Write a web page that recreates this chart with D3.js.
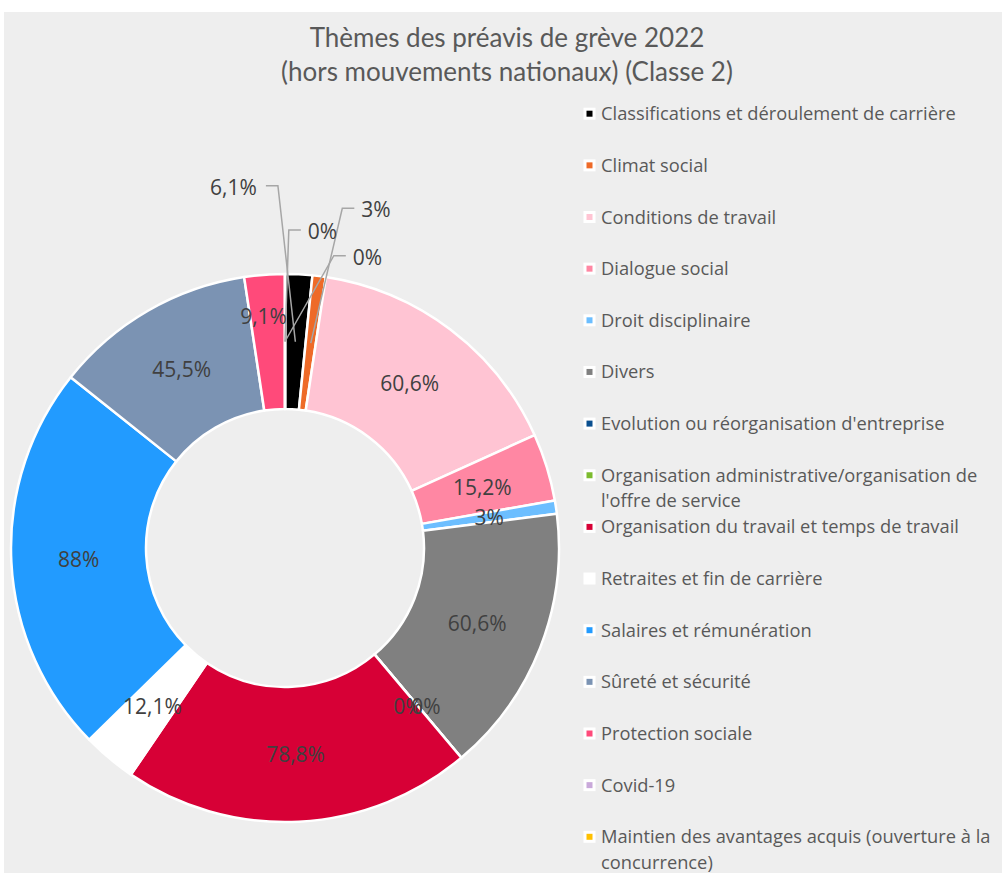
<!DOCTYPE html>
<html><head><meta charset="utf-8">
<script src="https://cdn.jsdelivr.net/npm/d3@7"></script>
<style>body{margin:0;background:#fff} svg{display:block}</style>
</head><body><svg id="c" width="1002" height="873"></svg>
<script>
const titleLines = ["Thèmes des préavis de grève 2022", "(hors mouvements nationaux) (Classe 2)"];
const categories = [
  "Classifications et déroulement de carrière",
  "Climat social",
  "Conditions de travail",
  "Dialogue social",
  "Droit disciplinaire",
  "Divers",
  "Evolution ou réorganisation d'entreprise",
  "Organisation administrative/organisation de l'offre de service",
  "Organisation du travail et temps de travail",
  "Retraites et fin de carrière",
  "Salaires et rémunération",
  "Sûreté et sécurité",
  "Protection sociale",
  "Covid-19",
  "Maintien des avantages acquis (ouverture à la concurrence)"
];
const values = [6.1, 3, 60.6, 15.2, 3, 60.6, 0, 0, 78.8, 12.1, 88, 45.5, 9.1, 0, 0];
const colors = ["#000000", "#EE6A28", "#FFC4D3", "#FF87A3", "#6CBEFF", "#808080", "#0A4F8F", "#7CBB2E",
  "#D70036", "#FFFFFF", "#229BFF", "#7B93B3", "#FF4A7A", "#C9A9DA", "#FFC000"];

// layout config (not data)
const outsideLabels = {
  "Classifications et déroulement de carrière": {dx: -51.5, dy: -361.3, side: "left"},
  "Climat social": {dx: 91, dy: -338.7, side: "right"},
  "Covid-19": {dx: 37.5, dy: -317, side: "right"},
  "Maintien des avantages acquis (ouverture à la concurrence)": {dx: 82.5, dy: -291.3, side: "right"}
};
const insideNudge = {
  "Protection sociale": [-6, -26],
  "Evolution ou réorganisation d'entreprise": [-10, 0],
  "Organisation administrative/organisation de l'offre de service": [8, 0]
};

const svg = d3.select("#c");
svg.append("rect").attr("x", 4).attr("y", 12).attr("width", 998).attr("height", 861).attr("fill", "#EEEEEE");

// title
svg.append("g").selectAll("text").data(titleLines).join("text")
  .attr("x", 507).attr("y", (d, i) => 37 + i * 34)
  .attr("text-anchor", "middle").attr("dominant-baseline", "central")
  .attr("font-family", "Lato, 'Open Sans', sans-serif").attr("font-size", 26)
  .attr("fill", "#595959").text(d => d);

const cx = 285, cy = 548, R = 274, r = 139;
const data = categories.map((c, i) => ({name: c, value: values[i], color: colors[i]}));
const pie = d3.pie().sort(null).value(d => d.value).startAngle(0).endAngle(2 * Math.PI);
const arcs = pie(data);
const arc = d3.arc().innerRadius(r).outerRadius(R);
const g = svg.append("g").attr("transform", `translate(${cx},${cy})`);
g.selectAll("path").data(arcs).join("path")
  .attr("d", arc).attr("fill", d => d.data.color)
  .attr("stroke", "#FFFFFF").attr("stroke-width", 2.5).attr("stroke-linejoin", "round");

const locale = d3.formatLocale({decimal: ",", thousands: " ", grouping: [3], currency: ["", "€"]});
const fmt = locale.format("~g");
const labelFont = "'Open Sans', sans-serif";
const labelSize = 21;

const leaders = g.append("g");
const labels = g.append("g");
arcs.forEach(a => {
  const [x0, y0] = arc.centroid(a);
  const txt = fmt(a.data.value) + "%";
  const o = outsideLabels[a.data.name];
  if (o) {
    const t = labels.append("text").attr("x", o.dx).attr("y", o.dy)
      .attr("text-anchor", "middle").attr("dominant-baseline", "central")
      .attr("font-family", labelFont).attr("font-size", labelSize).attr("fill", "#404040").text(txt);
    const w = t.node().getComputedTextLength();
    let sx, ex;
    if (o.side === "left") { sx = o.dx + w / 2 + 9; ex = sx + 12; }
    else { sx = o.dx - w / 2 - 7; ex = sx - 12; }
    const ly = o.dy - 1;
    leaders.append("path").attr("d", `M${sx},${ly}L${ex},${ly}L${x0},${y0}`)
      .attr("fill", "none").attr("stroke", "#A6A6A6").attr("stroke-width", 1.5);
  } else {
    const n = insideNudge[a.data.name] || [0, 0];
    labels.append("text").attr("x", x0 + n[0]).attr("y", y0 + n[1])
      .attr("text-anchor", "middle").attr("dominant-baseline", "central")
      .attr("font-family", labelFont).attr("font-size", labelSize).attr("fill", "#404040").text(txt);
  }
});

// legend
const legend = svg.append("g");
const ly0 = 112.7, lstep = 51.65, lineH = 25.5, maxW = 400;
data.forEach((d, i) => {
  const y = ly0 + i * lstep;
  legend.append("rect").attr("x", 585).attr("y", y - 3.5).attr("width", 9).attr("height", 9)
    .attr("fill", d.color).attr("stroke", "#FFFFFF").attr("stroke-width", 3);
  const t = legend.append("text").attr("font-family", labelFont).attr("font-size", 18.3).attr("fill", "#595959");
  const words = d.name.split(" ");
  let line = [], ln = 0;
  let ts = t.append("tspan").attr("x", 601).attr("y", y).attr("dominant-baseline", "central");
  words.forEach(wd => {
    line.push(wd);
    ts.text(line.join(" "));
    if (ts.node().getComputedTextLength() > maxW && line.length > 1) {
      line.pop();
      ts.text(line.join(" "));
      line = [wd];
      ln++;
      ts = t.append("tspan").attr("x", 601).attr("y", y + ln * lineH).attr("dominant-baseline", "central").text(wd);
    }
  });
});
</script>
</body></html>
